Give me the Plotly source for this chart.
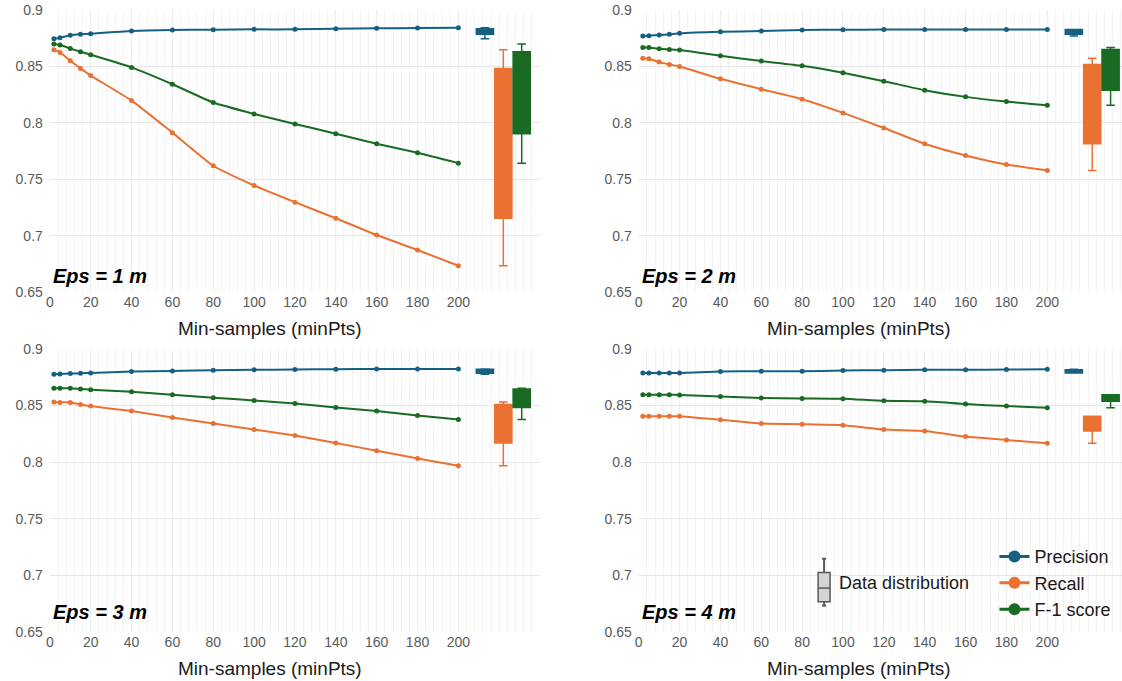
import plotly.graph_objects as go

# ---------------- data ----------------
min_samples = [2, 5, 10, 15, 20, 40, 60, 80, 100, 120, 140, 160, 180, 200]
x_tick_vals = [0, 20, 40, 60, 80, 100, 120, 140, 160, 180, 200]
y_tick_vals = [0.65, 0.7, 0.75, 0.8, 0.85, 0.9]
y_tick_text = ["0.65", "0.7", "0.75", "0.8", "0.85", "0.9"]
series_names = ["Precision", "Recall", "F-1 score"]
eps_labels = ["Eps = 1 m", "Eps = 2 m", "Eps = 3 m", "Eps = 4 m"]
box_positions = [213, 222, 231]   # where the distribution boxes sit on the x axis

precision_eps1 = [0.8745, 0.8754, 0.8775, 0.8784, 0.8790, 0.8813, 0.8822, 0.8825, 0.8828, 0.8828, 0.8834, 0.8837, 0.8840, 0.8843]
recall_eps1 = [0.8648, 0.8624, 0.8550, 0.8482, 0.8419, 0.8197, 0.7913, 0.7620, 0.7445, 0.7297, 0.7155, 0.7006, 0.6873, 0.6734]
f1_eps1 = [0.8698, 0.8689, 0.8659, 0.8630, 0.8603, 0.8491, 0.8342, 0.8180, 0.8079, 0.7990, 0.7904, 0.7815, 0.7735, 0.7643]

precision_eps2 = [0.8769, 0.8772, 0.8778, 0.8784, 0.8793, 0.8807, 0.8813, 0.8822, 0.8825, 0.8826, 0.8826, 0.8827, 0.8827, 0.8827]
recall_eps2 = [0.8573, 0.8568, 0.8538, 0.8517, 0.8499, 0.8390, 0.8298, 0.8209, 0.8088, 0.7954, 0.7815, 0.7711, 0.7631, 0.7578]
f1_eps2 = [0.8668, 0.8668, 0.8656, 0.8650, 0.8645, 0.8594, 0.8547, 0.8505, 0.8443, 0.8369, 0.8289, 0.8230, 0.8188, 0.8156]

precision_eps3 = [0.8775, 0.8778, 0.8781, 0.8784, 0.8787, 0.8799, 0.8805, 0.8811, 0.8814, 0.8817, 0.8820, 0.8822, 0.8822, 0.8822]
recall_eps3 = [0.8530, 0.8527, 0.8527, 0.8509, 0.8494, 0.8450, 0.8393, 0.8340, 0.8287, 0.8234, 0.8168, 0.8100, 0.8032, 0.7967]
f1_eps3 = [0.8651, 0.8651, 0.8651, 0.8645, 0.8639, 0.8621, 0.8595, 0.8568, 0.8544, 0.8518, 0.8482, 0.8450, 0.8411, 0.8376]

precision_eps4 = [0.8787, 0.8787, 0.8787, 0.8787, 0.8787, 0.8799, 0.8802, 0.8802, 0.8808, 0.8811, 0.8814, 0.8814, 0.8817, 0.8820]
recall_eps4 = [0.8405, 0.8405, 0.8405, 0.8405, 0.8405, 0.8373, 0.8340, 0.8334, 0.8325, 0.8287, 0.8275, 0.8225, 0.8195, 0.8166]
f1_eps4 = [0.8595, 0.8595, 0.8595, 0.8595, 0.8592, 0.8580, 0.8565, 0.8562, 0.8559, 0.8541, 0.8536, 0.8512, 0.8494, 0.8479]

panels_data = [
    (precision_eps1, recall_eps1, f1_eps1),
    (precision_eps2, recall_eps2, f1_eps2),
    (precision_eps3, recall_eps3, f1_eps3),
    (precision_eps4, recall_eps4, f1_eps4),
]

# ---------------- styling ----------------
colors = ["#156082", "#E97132", "#196B24"]
W, H = 1122, 681
FONT = "Liberation Sans, Arial, sans-serif"

def px_x(p):
    return p / W

def px_y(p):
    return 1 - p / H

# plot-area pixel boxes (left, right, top, bottom)
areas = [
    (46, 538, 2, 291),
    (637, 1122, 2, 291),
    (46, 538, 349, 639),
    (637, 1122, 349, 639),
]
eps_offsets = [17, 17, 20, 20]
px_per_unit = 2.05

fig = go.Figure()

for i, (series, area) in enumerate(zip(panels_data, areas)):
    ax = "" if i == 0 else str(i + 1)
    xr, yr = "x" + ax, "y" + ax
    for name, vals, col in zip(series_names, series, colors):
        fig.add_trace(go.Scatter(
            x=min_samples, y=vals, mode="lines+markers", name=name,
            line=dict(color=col, width=2, shape="spline", smoothing=0.5),
            marker=dict(color=col, size=5),
            xaxis=xr, yaxis=yr, showlegend=False,
        ))
    for pos, name, vals, col in zip(box_positions, series_names, series, colors):
        fig.add_trace(go.Box(
            y=vals, x0=pos, width=8.4, name=name,
            quartilemethod="exclusive", boxpoints=False,
            fillcolor=col, line=dict(color=col, width=1.5),
            whiskerwidth=0.5,
            xaxis=xr, yaxis=yr, showlegend=False,
        ))

# legend entries
for name, col in zip(series_names, colors):
    fig.add_trace(go.Scatter(
        x=[None], y=[None], mode="lines+markers", name=name,
        line=dict(color=col, width=3), marker=dict(color=col, size=12),
        xaxis="x4", yaxis="y4", showlegend=True,
    ))

layout = dict(
    width=W, height=H,
    margin=dict(l=0, r=0, t=0, b=0),
    paper_bgcolor="white", plot_bgcolor="white",
    font=dict(family=FONT, color="#595959"),
    showlegend=True,
    legend=dict(
        x=px_x(994), y=px_y(543), xanchor="left", yanchor="top",
        font=dict(size=18, color="#1a1a1a", family=FONT),
        bgcolor="rgba(0,0,0,0)", tracegroupgap=0, itemwidth=30,
    ),
)

annotations = []
shapes = []
for i, area in enumerate(areas):
    l, r, t, b = area
    ax = "" if i == 0 else str(i + 1)
    xmax = (r - l) / px_per_unit
    layout["xaxis" + ax] = dict(
        domain=[px_x(l), px_x(r)], range=[0, xmax], anchor="y" + ax,
        tickmode="array", tickvals=x_tick_vals,
        tickfont=dict(size=14, color="#595959", family=FONT),
        showgrid=True, gridcolor="#EDEDED", gridwidth=1,
        minor=dict(dtick=4, tick0=0, showgrid=True, gridcolor="#F3F3F3", gridwidth=1),
        zeroline=False, showline=False, ticks="", fixedrange=True,
    )
    layout["yaxis" + ax] = dict(
        domain=[px_y(b), px_y(t)], range=[0.65, 0.9], anchor="x" + ax,
        tickmode="array", tickvals=y_tick_vals, ticktext=y_tick_text,
        tickfont=dict(size=14, color="#595959", family=FONT),
        showgrid=True, gridcolor="#E6E6E6", gridwidth=1.2,
        zeroline=False, showline=False, ticks="", ticklabelstandoff=6,
        fixedrange=True,
    )
    annotations.append(dict(
        text="Min-samples (minPts)", xref="x" + ax, yref="paper",
        x=108, y=px_y(b + 37), xanchor="center", yanchor="middle",
        showarrow=False, font=dict(size=19, color="#1a1a1a", family=FONT),
    ))
    annotations.append(dict(
        text="<b><i>" + eps_labels[i] + "</i></b>", xref="x" + ax, yref="paper",
        x=0.5, y=px_y(b - eps_offsets[i]), xanchor="left", yanchor="middle",
        showarrow=False, font=dict(size=20, color="black", family=FONT),
    ))

# "Data distribution" legend icon (decoration)
bx0, bx1 = px_x(817), px_x(829)
bxm = px_x(823)
icon_col = "#595959"
shapes += [
    dict(type="line", xref="paper", yref="paper", x0=bxm, x1=bxm, y0=px_y(564), y1=px_y(578),
         line=dict(color=icon_col, width=2)),
    dict(type="line", xref="paper", yref="paper", x0=bxm, x1=bxm, y0=px_y(608), y1=px_y(612),
         line=dict(color=icon_col, width=2)),
    dict(type="line", xref="paper", yref="paper", x0=px_x(821), x1=px_x(825), y0=px_y(564), y1=px_y(564),
         line=dict(color=icon_col, width=2)),
    dict(type="line", xref="paper", yref="paper", x0=px_x(821), x1=px_x(825), y0=px_y(612), y1=px_y(612),
         line=dict(color=icon_col, width=2)),
    dict(type="rect", xref="paper", yref="paper", x0=bx0, x1=bx1, y0=px_y(608), y1=px_y(578),
         fillcolor="#D4D4D4", line=dict(color=icon_col, width=1.5)),
    dict(type="line", xref="paper", yref="paper", x0=bx0, x1=bx1, y0=px_y(594), y1=px_y(594),
         line=dict(color=icon_col, width=1.5)),
]
annotations.append(dict(
    text="Data distribution", xref="paper", yref="paper",
    x=px_x(836), y=px_y(589), xanchor="left", yanchor="middle",
    showarrow=False, font=dict(size=18, color="#1a1a1a", family=FONT),
))

layout["annotations"] = annotations
layout["shapes"] = shapes
fig.update_layout(**layout)

fig.write_html(
    "out.html",
    config={"displayModeBar": False},
    post_script="document.body.style.margin='0';document.body.style.overflow='hidden';",
)
